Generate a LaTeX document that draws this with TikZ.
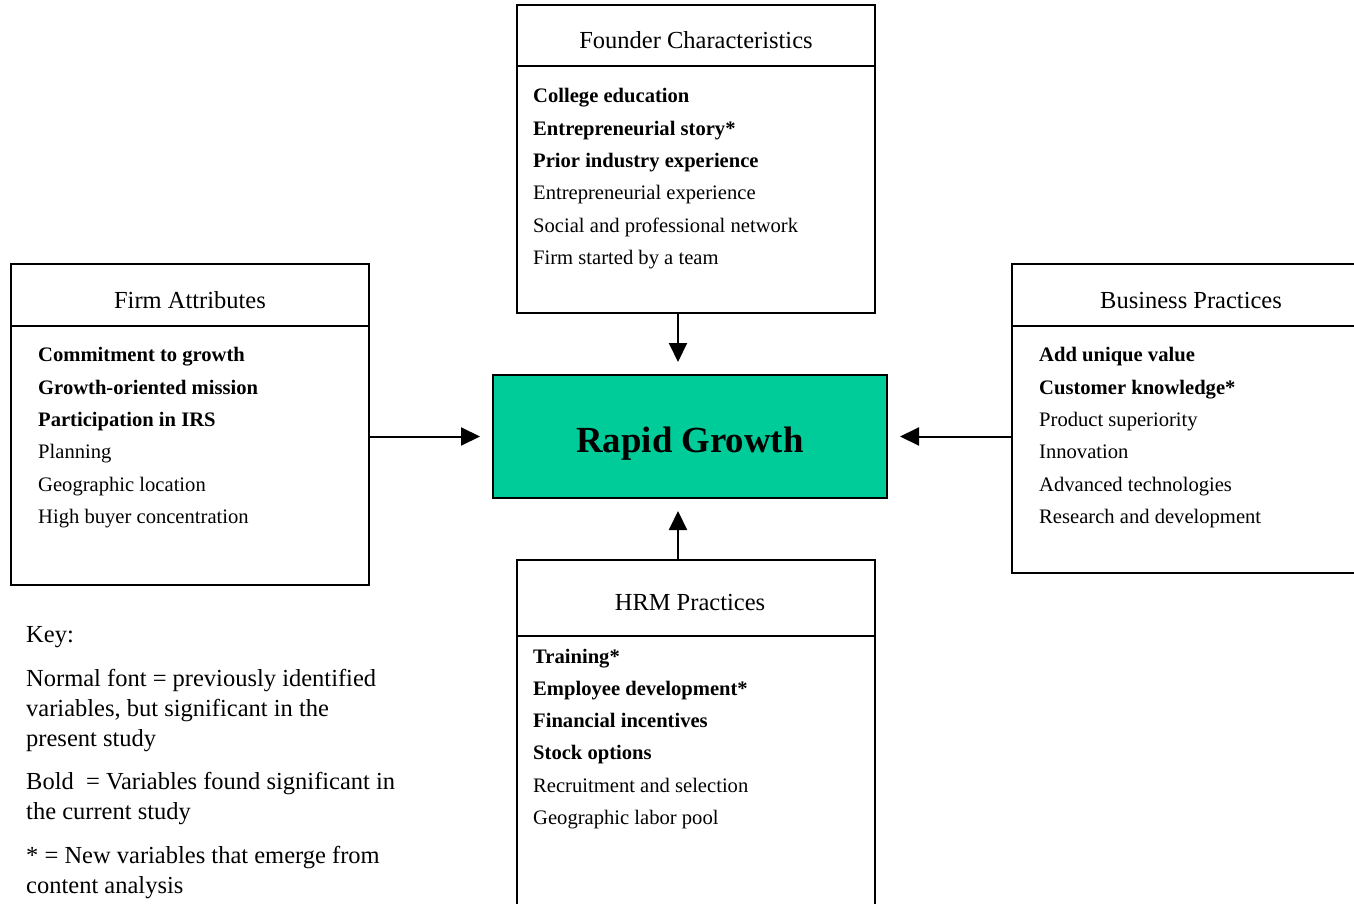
\documentclass[tikz,border=0pt]{standalone}
\usepackage{fontspec}
\setmainfont{Liberation Serif}
\usepackage{tikz}
\usetikzlibrary{arrows.meta,positioning,calc}
\definecolor{growthgreen}{RGB}{0,204,153}
\tikzstyle{HEAD} = [rectangle, draw, line width=1.3pt, minimum width=358pt, anchor=north west, inner sep=0pt, outer sep=0pt, text height=26pt, text depth=0pt, font=\fontsize{24.5}{29}\selectfont]
\tikzstyle{BODY} = [rectangle, draw, line width=1.3pt, minimum width=358pt, inner sep=0pt, outer sep=0pt]
\tikzstyle{ITEMS} = [anchor=north west, align=left, inner sep=0pt, font=\fontsize{20.6}{32.3}\selectfont]
\tikzstyle{GROWTH} = [rectangle, draw, line width=1.3pt, fill=growthgreen, minimum width=394pt, minimum height=123pt, inner sep=0pt, outer sep=0pt, text height=31pt, text depth=0pt, font=\bfseries\fontsize{36.8}{40}\selectfont]
\tikzstyle{ARROW} = [line width=2pt, -{Triangle[length=19pt,width=18pt]}, shorten >=13pt]

\begin{document}
\begin{tikzpicture}[x=1pt, y=-1pt]
\useasboundingbox (0,0) rectangle (1354,904);
\clip (0,0) rectangle (1354,904);
% Place nodes
\node [GROWTH] (growth) at (690,436.5) {Rapid Growth};

\node [HEAD, minimum height=61pt] (founder) at (517,5) {Founder Characteristics};
\node [BODY, below=0pt of founder, minimum height=247pt] (founderbody) {};
\node [ITEMS] (founderlist) at (533,88.5) {\textbf{College education}\\ \textbf{Entrepreneurial story*}\\ \textbf{Prior industry experience}\\ Entrepreneurial experience\\ Social and professional network\\ Firm started by a team};

\node [HEAD, minimum height=62pt] (firm) at (11,264) {Firm Attributes};
\node [BODY, below=0pt of firm, minimum height=259pt] (firmbody) {};
\node [ITEMS] (firmlist) at (38,347.5) {\textbf{Commitment to growth}\\ \textbf{Growth-oriented mission}\\ \textbf{Participation in IRS}\\ Planning\\ Geographic location\\ High buyer concentration};

\node [HEAD, minimum height=62pt] (business) at (1012,264) {Business Practices};
\node [BODY, below=0pt of business, minimum height=247pt] (businessbody) {};
\node [ITEMS] (businesslist) at (1039,347.5) {\textbf{Add unique value}\\ \textbf{Customer knowledge*}\\ Product superiority\\ Innovation\\ Advanced technologies\\ Research and development};

\node [HEAD, minimum height=76pt, text height=24pt] (hrm) at (517,560) {\hspace*{-12pt}HRM Practices};
\node [BODY, below=0pt of hrm, minimum height=300pt] (hrmbody) {};
\node [ITEMS] (hrmlist) at (533,648.5) {\textbf{Training*}\\ \textbf{Employee development*}\\ \textbf{Financial incentives}\\ \textbf{Stock options}\\ Recruitment and selection\\ Geographic labor pool};

% Key
\node [anchor=north west, align=left, inner sep=0pt, font=\fontsize{24.5}{30}\selectfont] (key) at (26,626) {Key:\\[14pt]
Normal font = previously identified\\ variables, but significant in the\\ present study\\[13pt]
Bold \ = Variables found significant in\\ the current study\\[14pt]
* = New variables that emerge from\\ content analysis};

% LINES and ARROWS
\draw [ARROW] ([xshift=-12pt]growth.north |- founderbody.south) -- ([xshift=-12pt]growth.north);
\draw [ARROW] ([xshift=-12pt]growth.south |- hrm.north) -- ([xshift=-12pt]growth.south);
\draw [ARROW] (firmbody.east |- growth.west) -- (growth.west);
\draw [ARROW] (businessbody.west |- growth.east) -- (growth.east);
\end{tikzpicture}
\end{document}
